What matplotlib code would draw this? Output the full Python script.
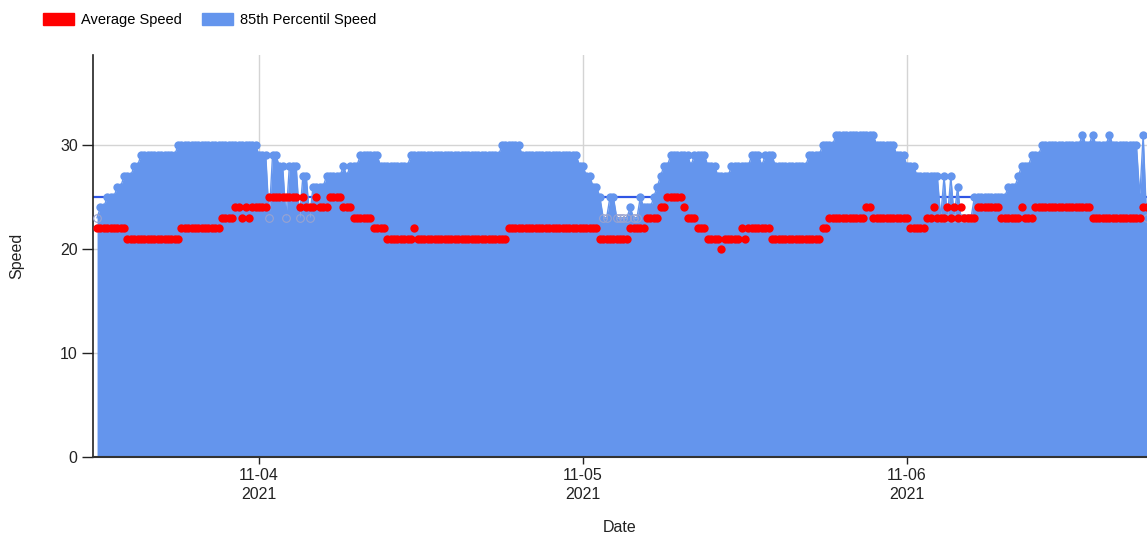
import numpy as np
import pandas as pd
import matplotlib
matplotlib.use('Agg')
import matplotlib.pyplot as plt
import matplotlib.dates as mdates
from matplotlib.patches import Patch

# Counter samples: one value every 15 minutes
START_TIME = "2021-11-03 12:00"
SAMPLE_FREQ = "15min"

# 85th percentile speed, run-length encoded as (speed, number of samples)
P85_RUNS = [
    (23, 1), (24, 2), (25, 3), (26, 2), (27, 3), (28, 2), (29, 11), (30, 24),
    (29, 3), (23, 1), (29, 2), (28, 2), (23, 1), (28, 3), (23, 1), (27, 2),
    (23, 1), (26, 4), (27, 5), (28, 1), (27, 1), (28, 3), (29, 6), (28, 9),
    (29, 27), (30, 6), (29, 17), (28, 2), (27, 2), (26, 2), (25, 1), (23, 2),
    (25, 2), (23, 4), (24, 1), (23, 2), (25, 1), (24, 3), (25, 1), (26, 1),
    (27, 1), (28, 2), (29, 6), (28, 1), (29, 4), (28, 3), (27, 4), (28, 6),
    (29, 3), (28, 1), (29, 3), (28, 10), (29, 4), (30, 4), (31, 12), (30, 6),
    (29, 3), (28, 3), (27, 7), (23, 1), (27, 1), (23, 1), (27, 1), (23, 1),
    (26, 1), (23, 4), (25, 10), (26, 3), (27, 1), (28, 3), (29, 3), (30, 12),
    (31, 1), (30, 2), (31, 1), (30, 4), (31, 1), (30, 8), (25, 1), (31, 1),
    (23, 1),
]

# Average speed, run-length encoded as (speed, number of samples)
AVG_RUNS = [
    (22, 9), (21, 16), (22, 12), (23, 4), (24, 2), (23, 1), (24, 1), (23, 1),
    (24, 5), (25, 9), (24, 1), (25, 1), (24, 3), (25, 1), (24, 3), (25, 4),
    (24, 3), (23, 6), (22, 4), (21, 8), (22, 1), (21, 27), (22, 27), (21, 9),
    (22, 5), (23, 4), (24, 2), (25, 5), (24, 1), (23, 3), (22, 3), (21, 4),
    (20, 1), (21, 5), (22, 1), (21, 1), (22, 7), (21, 15), (22, 2), (23, 11),
    (24, 2), (23, 11), (22, 5), (23, 2), (24, 1), (23, 3), (24, 1), (23, 1),
    (24, 1), (23, 1), (24, 1), (23, 4), (24, 7), (23, 6), (24, 1), (23, 3),
    (24, 17), (23, 15), (24, 2),
]

SPEED_LIMIT = 25
LOW_P85 = 23          # samples at this value are drawn as open circles
Y_TICKS = [0, 10, 20, 30]
X_START = "2021-11-03 11:42"
X_END = "2021-11-06 17:47"
Y_MAX = 38.65

BLUE = "#6495ED"
RED = "#FF0000"


def expand(runs):
    """Turn (value, count) runs back into one value per sample."""
    vals = [v for v, _ in runs]
    counts = [n for _, n in runs]
    return np.repeat(vals, counts).astype(float)


def main():
    plt.rcParams['font.family'] = ['Liberation Sans', 'DejaVu Sans']

    p85 = expand(P85_RUNS)
    avg = expand(AVG_RUNS)
    times = pd.date_range(START_TIME, periods=len(p85), freq=SAMPLE_FREQ)

    fig = plt.figure(figsize=(11.47, 5.36), dpi=100)
    ax = fig.add_axes([93 / 1147, 79 / 536, 1054 / 1147, 402 / 536])

    # --- grid + speed limit, all behind the area ---
    ax.set_axisbelow(True)
    ax.grid(color="#d4d4d4", linewidth=1, zorder=0)
    ax.axhline(SPEED_LIMIT, color="#2f55e4", linewidth=1.6, zorder=1)

    # --- 85th percentile area ---
    ax.fill_between(times, 0, p85, color=BLUE, linewidth=0, zorder=2)
    ax.plot(times, p85, color=BLUE, linewidth=1, zorder=2)
    high = p85 > LOW_P85
    ax.plot(times[high], p85[high], 'o', color=BLUE, ms=6, mec='none', zorder=3)
    ax.plot(times[~high], p85[~high], 'o', mfc='none', mec="#9aa3cf", ms=5.5, mew=0.8, zorder=3)

    # --- average speed ---
    ax.plot(times, avg, 'o', color=RED, ms=6, mec='none', zorder=4)

    # --- axes ---
    ax.set_xlim(pd.Timestamp(X_START), pd.Timestamp(X_END))
    ax.set_ylim(0, Y_MAX)
    ax.set_yticks(Y_TICKS)
    ax.xaxis.set_major_locator(mdates.DayLocator())
    ax.xaxis.set_major_formatter(mdates.DateFormatter("%m-%d\n%Y"))

    for side in ["top", "right"]:
        ax.spines[side].set_visible(False)
    ax.spines["left"].set_color("#222222")
    ax.spines["bottom"].set_color("#333333")
    ax.spines["left"].set_linewidth(1.2)
    ax.spines["bottom"].set_linewidth(1.5)

    ax.tick_params(axis='y', length=8, width=1, pad=3, labelsize=11.5, colors="#222222")
    ax.tick_params(axis='x', length=5, width=1, pad=3, labelsize=11.5, colors="#222222")
    for lbl in ax.get_xticklabels():
        lbl.set_linespacing(1.35)

    ax.set_ylabel("Speed", fontsize=11.5, color="#222222")
    ax.set_xlabel("Date", fontsize=11.5, color="#222222")
    ax.yaxis.set_label_coords(-0.0655, 0.5)
    ax.xaxis.set_label_coords(0.5, -0.157)

    # --- legend ---
    handles = [Patch(color=RED), Patch(color=BLUE)]
    fig.legend(handles, ["Average Speed", "85th Percentil Speed"],
               loc="upper left", bbox_to_anchor=(43 / 1147, 1 - 13 / 536),
               ncol=2, frameon=False, fontsize=10.5,
               handlelength=2.1, handleheight=0.85, handletextpad=0.5,
               columnspacing=1.4, borderaxespad=0, borderpad=0)

    fig.savefig("out.png", dpi=100)
    plt.close(fig)


if __name__ == "__main__":
    main()
